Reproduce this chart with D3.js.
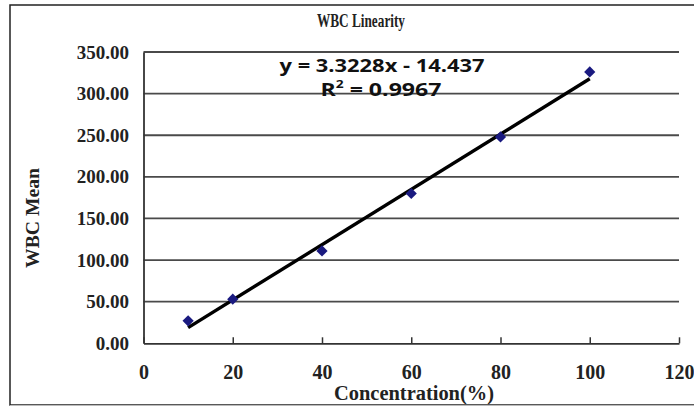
<!DOCTYPE html>
<html><head><meta charset="utf-8">
<script src="https://cdn.jsdelivr.net/npm/d3@7"></script>
<style>body{margin:0;background:#fff;}svg{display:block;}</style>
</head><body>
<script>
const concentration = [10, 20, 40, 60, 80, 100];
const wbcMean = [27, 53, 111, 180, 248, 326];
const xTicks = [0, 20, 40, 60, 80, 100, 120];
const yTicks = [0, 50, 100, 150, 200, 250, 300, 350];
const slope = 3.3228, intercept = -14.437;
const title = "WBC Linearity";
const xLabel = "Concentration(%)";
const yLabel = "WBC Mean";
const eqText = "y = 3.3228x - 14.437";

const W = 694, H = 407;
const svg = d3.select("body").append("svg").attr("width", W).attr("height", H);
svg.append("rect").attr("width", W).attr("height", H).attr("fill", "#fff");
// outer frame
svg.append("rect").attr("x", 10).attr("y", 5).attr("width", 700).attr("height", 400)
  .attr("fill", "none").attr("stroke", "#222").attr("stroke-width", 1.5);
svg.append("line").attr("x1", 10).attr("x2", 694).attr("y1", 405.5).attr("y2", 405.5)
  .attr("stroke", "#bbb").attr("stroke-width", 1);

const L = 143.5, R = 679, T = 52, B = 343.3;
const x = d3.scaleLinear().domain([0, 120]).range([L, R]);
const y = d3.scaleLinear().domain([0, 350]).range([B, T]);
const serif = "'Liberation Serif','Times New Roman',serif";

// gridlines
svg.append("g").selectAll("line").data(yTicks.filter(d => d > 0)).join("line")
  .attr("x1", L).attr("x2", R).attr("y1", d => y(d)).attr("y2", d => y(d))
  .attr("stroke", "#4a4a4a").attr("stroke-width", 1.8);

// y axis
const ya = svg.append("g").attr("transform", `translate(${L},0)`)
  .call(d3.axisLeft(y).tickValues(yTicks).tickSize(0).tickPadding(14.5).tickFormat(d3.format(".2f")));
ya.select(".domain").attr("stroke", "#333").attr("stroke-width", 1.8);
ya.selectAll("text").attr("font-family", serif).attr("font-weight", "bold").attr("font-size", 19).attr("fill", "#222");

// x axis
const xa = svg.append("g").attr("transform", `translate(0,${B})`)
  .call(d3.axisBottom(x).tickValues(xTicks).tickSizeInner(-6).tickSizeOuter(0).tickPadding(22).tickFormat(d3.format("d")));
xa.select(".domain").attr("stroke", "#333").attr("stroke-width", 1.8);
xa.selectAll(".tick line").attr("stroke", "#333").attr("stroke-width", 1.5);
xa.selectAll("text").attr("font-family", serif).attr("font-weight", "bold").attr("font-size", 20).attr("fill", "#222");

// trendline
const x0 = d3.min(concentration), x1 = d3.max(concentration);
svg.append("line").attr("x1", x(x0)).attr("y1", y(slope * x0 + intercept))
  .attr("x2", x(x1)).attr("y2", y(slope * x1 + intercept))
  .attr("stroke", "#000").attr("stroke-width", 3.4);

// points
svg.append("g").selectAll("path").data(concentration).join("path")
  .attr("d", d3.symbol(d3.symbolDiamond2, 80))
  .attr("transform", (d, i) => `translate(${x(d)},${y(wbcMean[i])})`)
  .attr("fill", "#1a1a80");

// title & labels
svg.append("text").attr("x", 361).attr("y", 27).attr("text-anchor", "middle")
  .attr("font-family", serif).attr("font-weight", "bold").attr("font-size", 18.5)
  .attr("textLength", 88).attr("lengthAdjust", "spacingAndGlyphs").attr("fill", "#222").text(title);
svg.append("text").attr("x", 414).attr("y", 400).attr("text-anchor", "middle")
  .attr("font-family", serif).attr("font-weight", "bold").attr("font-size", 20)
  .attr("textLength", 160).attr("lengthAdjust", "spacingAndGlyphs").attr("fill", "#222").text(xLabel);
svg.append("text").attr("transform", "translate(39,218) rotate(-90)").attr("text-anchor", "middle")
  .attr("font-family", serif).attr("font-weight", "bold").attr("font-size", 18)
  .attr("textLength", 100).attr("lengthAdjust", "spacingAndGlyphs").attr("fill", "#222").text(yLabel);

// equation
const sans = "'Open Sans','Liberation Sans',Arial,sans-serif";
svg.append("text").attr("x", 382).attr("y", 72).attr("text-anchor", "middle")
  .attr("font-family", sans).attr("font-weight", "bold").attr("font-size", 18.5)
  .attr("textLength", 205).attr("lengthAdjust", "spacingAndGlyphs").attr("fill", "#111").text(eqText);
const r2 = svg.append("text").attr("x", 381).attr("y", 96).attr("text-anchor", "middle")
  .attr("font-family", sans).attr("font-weight", "bold").attr("font-size", 18.5)
  .attr("textLength", 121).attr("lengthAdjust", "spacingAndGlyphs").attr("fill", "#111");
r2.append("tspan").text("R");
r2.append("tspan").attr("font-size", 11).attr("dy", -8).text("2");
r2.append("tspan").attr("dy", 8).text(" = 0.9967");
</script>
</body></html>
